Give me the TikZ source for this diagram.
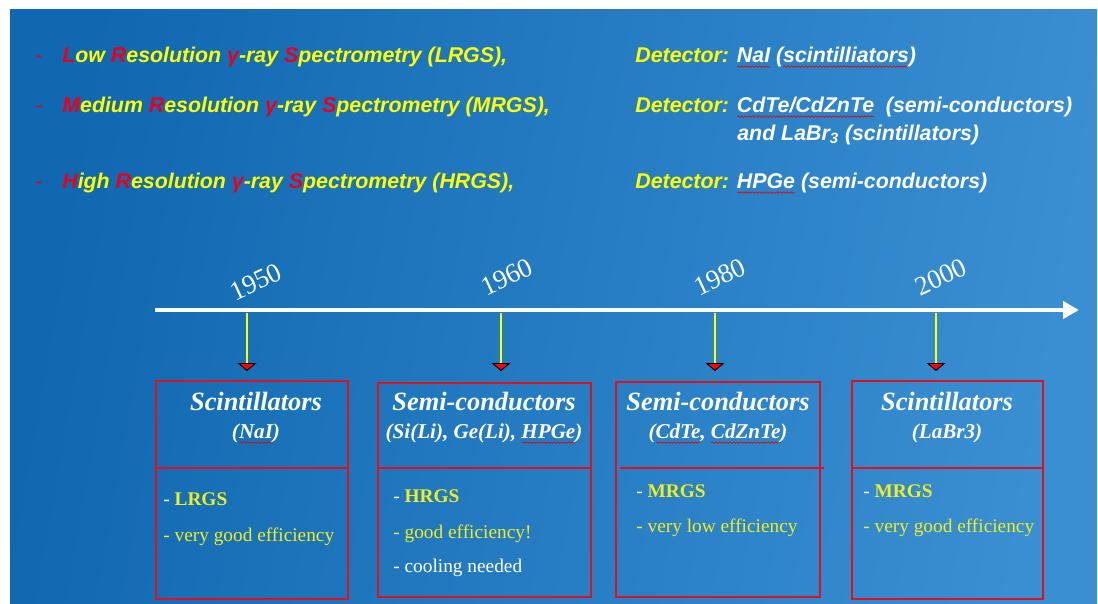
\documentclass[tikz,border=0pt]{standalone}
\usepackage{fontspec}
\setmainfont{Liberation Serif}
\newfontfamily\arialf{Liberation Sans}
\usetikzlibrary{arrows.meta,decorations.pathmorphing}
\definecolor{bgL}{HTML}{0F68B0}
\definecolor{bgR}{HTML}{3A8FD2}
\definecolor{ylw}{HTML}{FFFF00}
\definecolor{bylw}{HTML}{EEEE22}
\definecolor{rd}{HTML}{E8001C}
\definecolor{bxred}{HTML}{E0101E}
\newsavebox\wvbox
\newcommand\wv[1]{\sbox\wvbox{#1}\rlap{\raisebox{-2.6pt}{\tikz[baseline=0pt]\draw[red!90!black, line width=0.35pt, decorate, decoration={snake, amplitude=0.45pt, segment length=2pt}] (0pt,0pt) -- (\the\wd\wvbox,0pt);}}\usebox\wvbox}
\newcommand\hl[1]{{\color{rd}#1}}
\newcommand\yl[1]{{\color{ylw}#1}}
\newcommand\wh[1]{{\color{white}#1}}
\tikzset{
  toptext/.style={anchor=base west, inner sep=0pt, font=\arialf\bfseries\itshape\fontsize{12.15}{14}\selectfont},
  dashmark/.style={anchor=base west, inner sep=0pt, text=rd, font=\arialf\fontsize{12}{14}\selectfont},
  yearlbl/.style={inner sep=0pt, text=white, rotate=25, font=\fontsize{15.3}{17}\selectfont},
  stem/.style={draw=ylw, line width=0.6pt, -{Triangle[width=0.38cm, length=0.16cm, fill=red, color=black, line width=0.5pt]}},
  bx/.style={draw=bxred, line width=1.1pt, inner sep=0pt},
  bxline/.style={draw=bxred, color=bxred, line width=1.1pt},
  ttl/.style={anchor=base, inner sep=0pt, text=white, font=\bfseries\itshape\fontsize{15}{17}\selectfont},
  subttl/.style={anchor=base, inner sep=0pt, text=white, font=\bfseries\itshape\fontsize{12}{14}\selectfont},
  body/.style={anchor=base west, inner sep=0pt, text=bylw, font=\fontsize{11}{13}\selectfont},
}
\newcommand\bd[1]{{\color{white}- }{\color{bylw}\bfseries #1}}
\begin{document}
\begin{tikzpicture}[x=0.02cm, y=-0.02cm]
\useasboundingbox (0,0) rectangle (1098,603);
\fill[white] (0,0) rectangle (1098,603);
\shade[left color=bgL, right color=bgR, shading angle=80] (10,9) rectangle (1097,603);
% boxes (drawn first)
\node[bx, minimum width=3.84cm, minimum height=4.36cm] (b1) at (252,490) {};
\node[bx, minimum width=4.26cm, minimum height=4.28cm] (b2) at (484.5,490) {};
\node[bx, minimum width=4.08cm, minimum height=4.30cm] (b3) at (718,489.5) {};
\node[bx, minimum width=3.82cm, minimum height=4.36cm] (b4) at (947.5,490) {};
\coordinate (dv) at (0,468);
\coordinate (dv3a) at (620,468);
\coordinate (dv3b) at (824,468);
\draw[bxline] (b1.west |- dv) -- (b1.east |- dv);
\draw[bxline] (b2.west |- dv) -- (b2.east |- dv);
\draw[bxline] (dv3a) -- (dv3b);
\draw[bxline] (b4.west |- dv) -- (b4.east |- dv);
% top lines
\node[dashmark] (d1) at (35,62) {-};
\node[dashmark] (d2) at (35,112) {-};
\node[dashmark] (d3) at (35,188) {-};
\node[toptext] (l1) at (62,62) {\hl{L}\yl{ow }\hl{R}\yl{esolution }\hl{γ}\yl{-ray }\hl{S}\yl{pectrometry (LRGS),}};
\node[toptext] (l2) at (62,112) {\hl{M}\yl{edium }\hl{R}\yl{esolution }\hl{γ}\yl{-ray }\hl{S}\yl{pectrometry (MRGS),}};
\node[toptext] (l3) at (62,188) {\hl{H}\yl{igh }\hl{R}\yl{esolution }\hl{γ}\yl{-ray }\hl{S}\yl{pectrometry (HRGS),}};
\node[toptext] (t1) at (635,62) {\yl{Detector: }\wh{\wv{NaI} (\wv{scintilliators})}};
\node[toptext] (t2) at (635,112) {\yl{Detector: }\wh{\wv{CdTe/CdZnTe}\ \ (semi-conductors)}};
\node[toptext] (t2b) at (737,140) {\wh{and LaBr\textsubscript{3} (scintillators)}};
\node[toptext] (t3) at (635,188) {\yl{Detector: }\wh{\wv{HPGe} (semi-conductors)}};
% timeline
\coordinate (tl0) at (155,310);
\coordinate (tl1) at (1079,310);
\draw[white, line width=2.5pt, -{Triangle[length=0.32cm, width=0.34cm]}] (tl0) -- (tl1);
\node[yearlbl] (y1) at (256,282) {1950};
\node[yearlbl] (y2) at (507,277) {1960};
\node[yearlbl] (y3) at (720,277) {1980};
\node[yearlbl] (y4) at (941,277) {2000};
\coordinate (s1a) at (247,313); \coordinate (s1b) at (247,371);
\coordinate (s2a) at (501,313); \coordinate (s2b) at (501,371);
\coordinate (s3a) at (715,313); \coordinate (s3b) at (715,371);
\coordinate (s4a) at (936,313); \coordinate (s4b) at (936,371);
\draw[stem] (s1a) -- (s1b);
\draw[stem] (s2a) -- (s2b);
\draw[stem] (s3a) -- (s3b);
\draw[stem] (s4a) -- (s4b);
% box texts
\node[ttl] (h1) at (256,410) {Scintillators};
\node[subttl] (g1) at (256,438) {(\wv{NaI})};
\node[ttl] (h2) at (484,410) {Semi-conductors};
\node[subttl] (g2) at (484,438) {(Si(Li), Ge(Li), \wv{HPGe})};
\node[ttl] (h3) at (718,410) {Semi-conductors};
\node[subttl] (g3) at (718,438) {(\wv{CdTe}, \wv{CdZnTe})};
\node[ttl] (h4) at (947,410) {Scintillators};
\node[subttl] (g4) at (947,438) {(LaBr3)};
\node[body] (p11) at (163,505) {\bd{LRGS}};
\node[body] (p12) at (163,541) {- very good efficiency};
\node[body] (p21) at (393,502) {\bd{HRGS}};
\node[body] (p22) at (393,538) {- good efficiency!};
\node[body, text=white] (p23) at (393,572) {- cooling needed};
\node[body] (p31) at (636,497) {\bd{MRGS}};
\node[body] (p32) at (636,532) {- very low efficiency};
\node[body] (p41) at (863,497) {\bd{MRGS}};
\node[body] (p42) at (863,532) {- very good efficiency};
\end{tikzpicture}
\end{document}
